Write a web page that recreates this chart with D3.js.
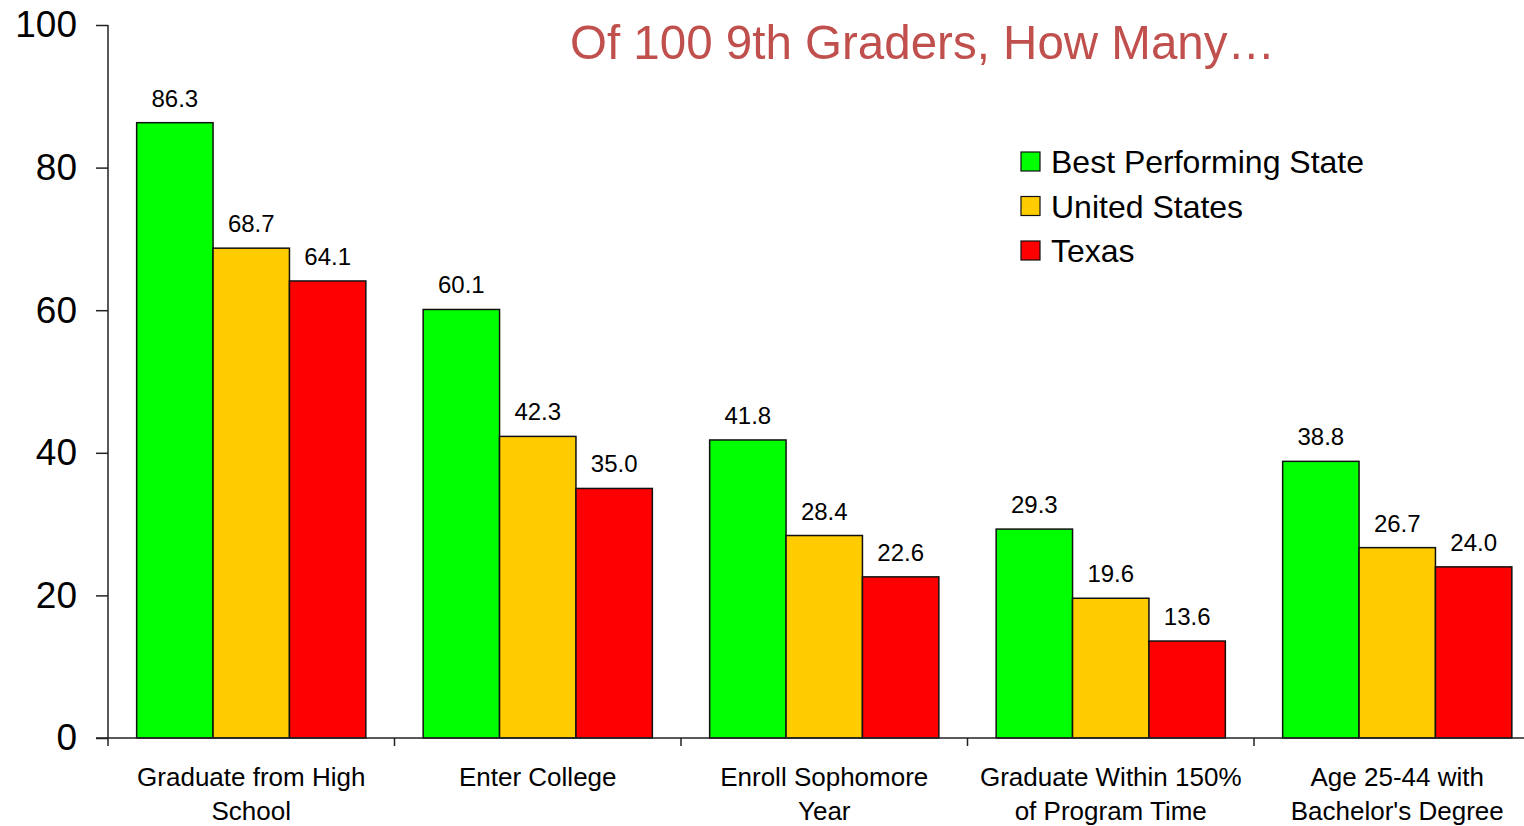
<!DOCTYPE html>
<html>
<head>
<meta charset="utf-8">
<script src="https://cdn.jsdelivr.net/npm/d3@7"></script>
<style>
  html, body { margin: 0; padding: 0; background: #fff; }
  svg { display: block; font-family: "Liberation Sans", Arial, sans-serif; }
</style>
</head>
<body>
<svg id="chart" width="1524" height="826"></svg>
<script>
// data
var categories = [
  ["Graduate from High", "School"],
  ["Enter College"],
  ["Enroll Sophomore", "Year"],
  ["Graduate Within 150%", "of Program Time"],
  ["Age 25-44 with", "Bachelor's Degree"]
];
var seriesNames = ["Best Performing State", "United States", "Texas"];
var bestState = [86.3, 60.1, 41.8, 29.3, 38.8];
var unitedStates = [68.7, 42.3, 28.4, 19.6, 26.7];
var texas = [64.1, 35.0, 22.6, 13.6, 24.0];
var yTicks = [0, 20, 40, 60, 80, 100];
var colors = ["#00ff00", "#ffcc00", "#ff0000"];

var allSeries = [bestState, unitedStates, texas];

var svg = d3.select("#chart");
// note: "top" is taken by window.top, so plot edges get their own names
var plotLeft = 108, plotRight = 1540.5, plotTop = 25, plotBottom = 738;

var x0 = d3.scaleBand()
  .domain(d3.range(categories.length))
  .range([plotLeft, plotRight])
  .paddingInner(0.2)
  .paddingOuter(0.1);

var x1 = d3.scaleBand()
  .domain(d3.range(seriesNames.length))
  .range([0, x0.bandwidth()]);

var y = d3.scaleLinear().domain([0, 100]).range([plotBottom, plotTop]);

// bars
var groups = svg.append("g").selectAll("g")
  .data(categories)
  .enter().append("g")
    .attr("transform", function(d, i) { return "translate(" + x0(i) + ",0)"; });

groups.each(function(cat, ci) {
  var g = d3.select(this);
  var vals = allSeries.map(function(s) { return s[ci]; });
  g.selectAll("rect")
    .data(vals)
    .enter().append("rect")
      .attr("x", function(d, si) { return x1(si); })
      .attr("y", function(d) { return y(d); })
      .attr("width", x1.bandwidth())
      .attr("height", function(d) { return y(0) - y(d); })
      .attr("fill", function(d, si) { return colors[si]; })
      .attr("stroke", "#111")
      .attr("stroke-width", 1.5);
  g.selectAll("text.val")
    .data(vals)
    .enter().append("text")
      .attr("class", "val")
      .attr("x", function(d, si) { return x1(si) + x1.bandwidth() / 2; })
      .attr("y", function(d) { return y(d) - 16; })
      .attr("text-anchor", "middle")
      .attr("font-size", 24)
      .attr("fill", "#000")
      .text(function(d) { return d.toFixed(1); });
});

// y axis
var yAxis = d3.axisLeft(y).tickValues(yTicks).tickSize(12).tickPadding(19);
var yg = svg.append("g")
  .attr("transform", "translate(" + plotLeft + ",0)")
  .call(yAxis);
yg.select(".domain").attr("stroke", "#222").attr("stroke-width", 1.5).attr("d", "M0," + plotTop + "V" + plotBottom);
yg.selectAll(".tick line").attr("stroke", "#222").attr("stroke-width", 1.5);
yg.selectAll(".tick text")
  .attr("font-size", 37)
  .attr("font-family", "Liberation Sans, Arial, sans-serif")
  .attr("fill", "#000")
  .attr("dy", "0.32em");

// x axis: ticks at category boundaries
var boundaries = d3.range(categories.length + 1).map(function(i) { return plotLeft + i * x0.step(); });
var xg = svg.append("g");
xg.append("line")
  .attr("x1", plotLeft - 12).attr("x2", plotRight)
  .attr("y1", plotBottom).attr("y2", plotBottom)
  .attr("stroke", "#222").attr("stroke-width", 1.5);
xg.selectAll("line.tk")
  .data(boundaries)
  .enter().append("line")
    .attr("class", "tk")
    .attr("x1", function(d) { return d; }).attr("x2", function(d) { return d; })
    .attr("y1", plotBottom).attr("y2", plotBottom + 8)
    .attr("stroke", "#222").attr("stroke-width", 1.5);

var labels = xg.selectAll("text.cat")
  .data(categories)
  .enter().append("text")
    .attr("class", "cat")
    .attr("x", function(d, i) { return x0(i) + x0.bandwidth() / 2; })
    .attr("y", 786)
    .attr("text-anchor", "middle")
    .attr("font-size", 26)
    .attr("fill", "#000");
labels.each(function(lines) {
  var t = d3.select(this);
  var cx = t.attr("x");
  lines.forEach(function(line, li) {
    t.append("tspan").attr("x", cx).attr("dy", li === 0 ? 0 : 34).text(line);
  });
});

// title
svg.append("text")
  .attr("x", 570).attr("y", 59)
  .attr("font-size", 49)
  .attr("fill", "#c0504d")
  .attr("textLength", 705)
  .attr("lengthAdjust", "spacingAndGlyphs")
  .text("Of 100 9th Graders, How Many…");

// legend
var legend = svg.append("g").attr("transform", "translate(1021,152)");
var items = legend.selectAll("g")
  .data(seriesNames)
  .enter().append("g")
    .attr("transform", function(d, i) { return "translate(0," + (i * 44.5) + ")"; });
items.append("rect")
  .attr("width", 19).attr("height", 19)
  .attr("fill", function(d, i) { return colors[i]; })
  .attr("stroke", "#111").attr("stroke-width", 1.2);
items.append("text")
  .attr("x", 30).attr("y", 21)
  .attr("font-size", 32)
  .attr("fill", "#000")
  .text(function(d) { return d; });
</script>
</body>
</html>
